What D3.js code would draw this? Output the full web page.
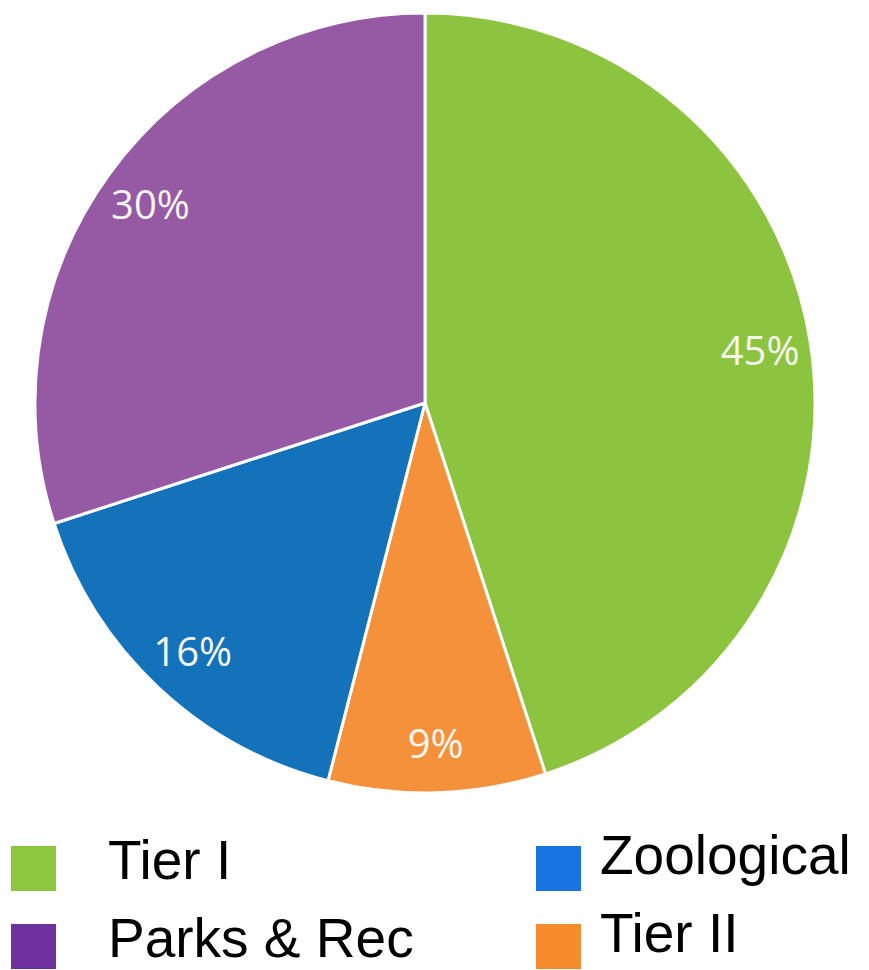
<!DOCTYPE html>
<html>
<head>
<meta charset="utf-8">
<script src="https://cdn.jsdelivr.net/npm/d3@7"></script>
<style>
  html, body { margin: 0; padding: 0; background: #fff; }
  #graphic { width: 869px; height: 970px; }
</style>
</head>
<body>
<div id="graphic"></div>
<script>
// data
const categories = ["Tier I", "Tier II", "Zoological", "Parks & Rec"];
const values = [45, 9, 16, 30];
const sliceColors = ["#8dc43f", "#f5913b", "#1372ba", "#9659a3"];

const legendOrder = ["Tier I", "Zoological", "Parks & Rec", "Tier II"];
const legendColors = ["#8dc63f", "#1874e0", "#7030a0", "#f58b2b"];

const rows = categories.map((c, i) => ({ name: c, value: values[i], color: sliceColors[i] }));

const width = 869, height = 970;
const cx = 425, cy = 403, radius = 390;

const svg = d3.select("#graphic")
  .append("svg")
  .attr("width", width)
  .attr("height", height);

const plot = svg.append("g")
  .attr("transform", `translate(${cx}, ${cy})`);

const pie = d3.pie()
  .sort(null)
  .value(d => d.value);

const arc = d3.arc()
  .innerRadius(0)
  .outerRadius(radius);

// labels sit fairly far out in each slice
const labelArc = d3.arc()
  .innerRadius(radius * 0.87)
  .outerRadius(radius * 0.87);

const arcs = pie(rows);

plot.selectAll("path")
    .data(arcs)
  .enter().append("path")
    .attr("d", arc)
    .attr("fill", d => d.data.color)
    .attr("stroke", "#fff")
    .attr("stroke-width", 3)
    .attr("stroke-linejoin", "round");

plot.selectAll("text.pct")
    .data(arcs)
  .enter().append("text")
    .attr("class", "pct")
    .attr("transform", d => `translate(${labelArc.centroid(d)})`)
    .attr("text-anchor", "middle")
    .attr("dominant-baseline", "central")
    .style("font-family", "'Open Sans', sans-serif")
    .style("font-size", "40px")
    .style("fill", "#f6f6f0")
    .text(d => d.data.value + "%");

// legend, two columns
const legend = svg.append("g").attr("class", "legend");

const colX = [11, 536];
const rowY = [846, 924];

const items = legend.selectAll("g")
    .data(legendOrder)
  .enter().append("g")
    .attr("transform", (d, i) => `translate(${colX[i % 2]}, ${rowY[Math.floor(i / 2)]})`);

items.append("rect")
  .attr("width", 45)
  .attr("height", 45)
  .attr("fill", (d, i) => legendColors[i]);

items.append("text")
  .attr("x", (d, i) => i % 2 === 0 ? 97 : 64)
  .attr("y", (d, i) => i % 2 === 0 ? 33 : 28)
  .style("font-family", "'Liberation Sans', Arial, sans-serif")
  .style("font-size", "55px")
  .style("fill", "#000")
  .text(d => d);
</script>
</body>
</html>
